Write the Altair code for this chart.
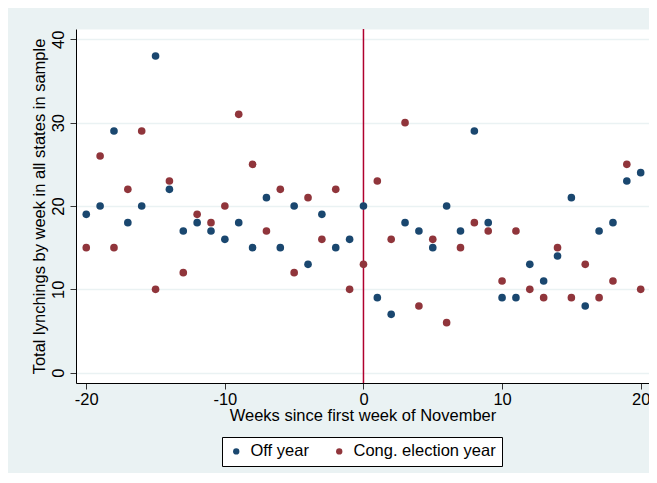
import altair as alt
import pandas as pd

weeks = list(range(-20, 21))
off_year = [19, 20, 29, 18, 20, 38, 22, 17, 18, 17, 16, 18, 15, 21, 15, 20, 13, 19, 15, 16,
            20,
            9, 7, 18, 17, 15, 20, 17, 29, 18, 9, 9, 13, 11, 14, 21, 8, 17, 18, 23, 24]
cong_year = [15, 26, 15, 22, 29, 10, 23, 12, 19, 18, 20, 31, 25, 17, 22, 12, 21, 16, 22, 10,
             13,
             23, 16, 30, 8, 16, 6, 15, 18, 17, 11, 17, 10, 9, 15, 9, 13, 9, 11, 25, 10]
series_names = ["Off year", "Cong. election year"]
series_colors = ["#1A476F", "#90353B"]
x_ticks = [-20, -10, 0, 10, 20]
y_ticks = [0, 10, 20, 30, 40]
vline_at = [0]

rows = []
for w, a, b in zip(weeks, off_year, cong_year):
    rows.append({"week": w, "count": a, "series": series_names[0]})
    rows.append({"week": w, "count": b, "series": series_names[1]})
df = pd.DataFrame(rows)

FONT = "Liberation Sans"
FS = 16.5

xscale = alt.Scale(domain=[-20.74, 20.6], nice=False, zero=False)
yscale = alt.Scale(domain=[-1.24, 41.24], nice=False, zero=False)

points = alt.Chart(df).mark_circle(size=58, opacity=1).encode(
    x=alt.X("week:Q", scale=xscale,
            axis=alt.Axis(values=x_ticks, grid=False, title="Weeks since first week of November",
                          labelPadding=2, titlePadding=0, labelExpr="datum.value + ''")),
    y=alt.Y("count:Q", scale=yscale,
            axis=alt.Axis(values=y_ticks, grid=True, gridColor="#EAF2F3", gridWidth=1.6,
                          title="Total lynchings by week in all states in sample",
                          labelAngle=270, labelAlign="center", labelBaseline="bottom",
                          labelPadding=4, titlePadding=3, labelExpr="datum.value + ''")),
    color=alt.Color("series:N",
                    scale=alt.Scale(domain=series_names, range=series_colors),
                    legend=alt.Legend(title=None, orient="none", legendX=146, legendY=408,
                                      direction="horizontal", fillColor="white",
                                      strokeColor="black", padding=6, symbolSize=40,
                                      symbolType="circle", labelFontSize=FS, labelFont=FONT,
                                      labelColor="#000000",
                                      columnPadding=22, labelOffset=6, symbolStrokeWidth=0)),
)

vline = alt.Chart(pd.DataFrame({"x": vline_at})).mark_rule(color="#B0002E", strokeWidth=1.5).encode(
    x=alt.X("x:Q", scale=xscale)
)

chart = alt.layer(vline, points).properties(
    width=573, height=354,
    autosize=alt.AutoSizeParams(type="none"),
    padding={"left": 68, "top": 21, "right": 0, "bottom": 90},
    background="#EAF2F3",
).configure_view(
    fill="white", stroke="transparent"
).configure_axis(
    domainColor="#000000", domainWidth=1, tickColor="#333333", tickSize=6, tickWidth=1,
    labelColor="#000000", labelFont=FONT, labelFontSize=FS,
    titleColor="#000000", titleFont=FONT, titleFontSize=FS, titleFontWeight="normal",
)

chart.save("out.html", embed_options={"renderer": "svg", "actions": False})
